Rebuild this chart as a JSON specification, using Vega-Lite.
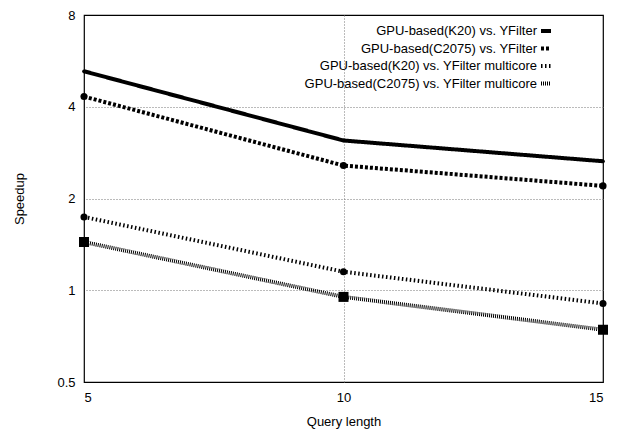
{
  "$schema": "https://vega.github.io/schema/vega-lite/v6.json",
  "width": 519,
  "height": 367,
  "autosize": "none",
  "padding": {"left": 84, "top": 15, "right": 21, "bottom": 49},
  "background": "white",
  "config": {
    "font": "Liberation Sans",
    "view": {"stroke": "black", "strokeWidth": 1.2},
    "axis": {"labelFontSize": 13, "labelColor": "black", "titleFontSize": 13, "titleFontWeight": "normal", "titleColor": "black", "ticks": false, "domain": false},
    "legend": {"title": null, "orient": "none", "legendX": 455, "legendY": 9, "rowPadding": 1.5, "labelFontSize": 13, "labelColor": "black", "labelLimit": 400, "labelAlign": "right", "labelOffset": -16, "symbolType": "stroke", "symbolStrokeColor": "black"}
  },
  "data": {
    "values": [
      {"len": 5, "series": "GPU-based(K20) vs. YFilter", "speedup": 5.23},
      {"len": 10, "series": "GPU-based(K20) vs. YFilter", "speedup": 3.10},
      {"len": 15, "series": "GPU-based(K20) vs. YFilter", "speedup": 2.65},
      {"len": 5, "series": "GPU-based(C2075) vs. YFilter", "speedup": 4.32},
      {"len": 10, "series": "GPU-based(C2075) vs. YFilter", "speedup": 2.565},
      {"len": 15, "series": "GPU-based(C2075) vs. YFilter", "speedup": 2.20},
      {"len": 5, "series": "GPU-based(K20) vs. YFilter multicore", "speedup": 1.74},
      {"len": 10, "series": "GPU-based(K20) vs. YFilter multicore", "speedup": 1.15},
      {"len": 15, "series": "GPU-based(K20) vs. YFilter multicore", "speedup": 0.905},
      {"len": 5, "series": "GPU-based(C2075) vs. YFilter multicore", "speedup": 1.44},
      {"len": 10, "series": "GPU-based(C2075) vs. YFilter multicore", "speedup": 0.951},
      {"len": 15, "series": "GPU-based(C2075) vs. YFilter multicore", "speedup": 0.742}
    ]
  },
  "resolve": {"axis": {"x": "independent", "y": "independent"}},
  "layer": [
    {
      "mark": {"type": "line", "color": "black", "strokeCap": "butt"},
      "encoding": {
        "x": {"field": "len", "type": "quantitative", "scale": {"domain": [5, 15], "nice": false},
              "axis": {"orient": "bottom", "values": [5, 10, 15], "grid": false, "title": "Query length", "labelPadding": 9, "titlePadding": 11}},
        "y": {"field": "speedup", "type": "quantitative", "scale": {"type": "log", "base": 2, "domain": [0.5, 8], "nice": false},
              "axis": {"orient": "left", "values": [0.5, 1, 2, 4, 8], "format": "~g", "grid": false, "title": "Speedup", "labelPadding": 9, "titlePadding": 30}},
        "strokeDash": {"field": "series", "type": "nominal",
          "scale": {"domain": ["GPU-based(K20) vs. YFilter", "GPU-based(C2075) vs. YFilter", "GPU-based(K20) vs. YFilter multicore", "GPU-based(C2075) vs. YFilter multicore"],
                    "range": [[1, 0], [3, 2], [1.5, 2.5], [1, 1]]},
          "legend": {"symbolType": "stroke"}},
        "strokeWidth": {"field": "series", "type": "nominal",
          "scale": {"domain": ["GPU-based(K20) vs. YFilter", "GPU-based(C2075) vs. YFilter", "GPU-based(K20) vs. YFilter multicore", "GPU-based(C2075) vs. YFilter multicore"],
                    "range": [4, 4, 4, 3]},
          "legend": {"symbolType": "stroke"}}
      }
    },
    {
      "transform": [{"filter": "datum.series === 'GPU-based(K20) vs. YFilter'"}],
      "mark": {"type": "point", "filled": true, "color": "black", "opacity": 1, "shape": "circle", "size": 14},
      "encoding": {
        "x": {"field": "len", "type": "quantitative",
              "axis": {"orient": "top", "values": [10], "grid": true, "gridDash": [1, 2], "gridColor": "#777", "gridWidth": 1, "labels": false, "title": null}},
        "y": {"field": "speedup", "type": "quantitative",
              "axis": {"orient": "right", "values": [1, 2, 4], "grid": true, "gridDash": [1, 2], "gridColor": "#777", "gridWidth": 1, "labels": false, "title": null}}
      }
    },
    {
      "transform": [{"filter": "datum.series === 'GPU-based(C2075) vs. YFilter' || datum.series === 'GPU-based(K20) vs. YFilter multicore'"}],
      "mark": {"type": "point", "filled": true, "color": "black", "opacity": 1, "shape": "circle", "size": 50},
      "encoding": {
        "x": {"field": "len", "type": "quantitative", "axis": null},
        "y": {"field": "speedup", "type": "quantitative", "axis": null}
      }
    },
    {
      "transform": [{"filter": "datum.series === 'GPU-based(C2075) vs. YFilter multicore'"}],
      "mark": {"type": "point", "filled": true, "color": "black", "opacity": 1, "shape": "square", "size": 100},
      "encoding": {
        "x": {"field": "len", "type": "quantitative", "axis": null},
        "y": {"field": "speedup", "type": "quantitative", "axis": null}
      }
    }
  ]
}
